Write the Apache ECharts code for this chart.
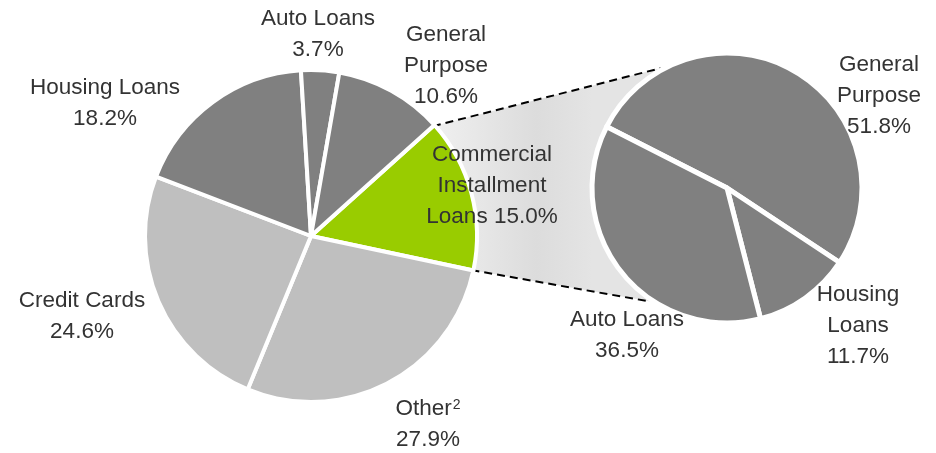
<!DOCTYPE html>
<html>
<head>
<meta charset="utf-8">
<script src="https://cdn.jsdelivr.net/npm/echarts@6/dist/echarts.min.js"></script>
<style>
  html, body { margin: 0; padding: 0; background: #fff; }
  #chart { width: 936px; height: 453px; }
</style>
</head>
<body>
<div id="chart"></div>
<script>
// Loan portfolio mix (%), main pie, clockwise from the highlighted slice
const mainCategories = ['Commercial\nInstallment\nLoans', 'Other', 'Credit Cards', 'Housing Loans', 'Auto Loans', 'General\nPurpose'];
const mainValues = [15.0, 27.9, 24.6, 18.2, 3.7, 10.6];
const mainColors = ['#99cc00', '#bfbfbf', '#bfbfbf', '#808080', '#808080', '#808080'];

// Breakdown of commercial installment loans (%)
const detailCategories = ['General\nPurpose', 'Housing\nLoans', 'Auto Loans'];
const detailValues = [51.8, 11.7, 36.5];

// Layout of the two pies (pixels)
const MAIN = { cx: 311, cy: 236, r: 166, start: 42 };
const DETAIL = { cx: 727, cy: 188, r: 135, start: 153 };

// Label anchor points (pixels)
const mainLabelPos = [[492, 186], [428, 424], [82, 316], [105, 103], [318, 34], [446, 66]];
const detailLabelPos = [[879, 96], [858, 326], [627, 335]];

const FONT = '"Liberation Sans", Arial, sans-serif';
const TEXT_COLOR = '#333333';
const FONT_SIZE = 22.5;

const chart = echarts.init(document.getElementById('chart'), null, { renderer: 'canvas' });

// Connector band from the highlighted slice to the detail pie
function polar(c, r, deg) {
  const a = deg * Math.PI / 180;
  return [c.cx + r * Math.cos(a), c.cy - r * Math.sin(a)];
}
const total = mainValues.reduce((a, b) => a + b, 0);
const sliceEnd = MAIN.start - 360 * mainValues[0] / total;
const pTopL = polar(MAIN, MAIN.r - 2, MAIN.start);
const pBotL = polar(MAIN, MAIN.r - 2, sliceEnd);
const pTopR = polar(DETAIL, DETAIL.r + 2, 119);
const pBotR = polar(DETAIL, DETAIL.r + 2, 236);
const bandPoints = [pTopL, pTopR];
for (let d = 119; d <= 236; d += 3) bandPoints.push(polar(DETAIL, DETAIL.r, d));
bandPoints.push(pBotR, pBotL, [MAIN.cx, MAIN.cy]);

const dashStyle = { stroke: '#000', lineWidth: 2, lineDash: [8, 5] };

const option = {
  backgroundColor: '#ffffff',
  animation: false,
  graphic: [
    {
      type: 'polygon',
      z: 0,
      shape: { points: bandPoints },
      style: {
        fill: new echarts.graphic.LinearGradient(pTopL[0], 0, DETAIL.cx - DETAIL.r, 0, [
          { offset: 0, color: '#f0f0f0' },
          { offset: 0.65, color: '#dcdcdc' },
          { offset: 1, color: '#e4e4e4' }
        ], true)
      }
    },
    {
      type: 'line', z: 1,
      shape: { x1: pTopL[0], y1: pTopL[1], x2: pTopR[0], y2: pTopR[1] },
      style: dashStyle
    },
    {
      type: 'line', z: 1,
      shape: { x1: pBotL[0], y1: pBotL[1], x2: pBotR[0], y2: pBotR[1] },
      style: dashStyle
    }
  ],
  series: [
    {
      type: 'pie',
      z: 3,
      center: [MAIN.cx, MAIN.cy],
      radius: [0, MAIN.r],
      startAngle: MAIN.start,
      clockwise: true,
      avoidLabelOverlap: false,
      data: mainCategories.map((n, i) => ({
        name: n, value: mainValues[i], itemStyle: { color: mainColors[i] }
      })),
      itemStyle: { borderColor: '#ffffff', borderWidth: 4 },
      label: {
        show: true,
        position: 'outside',
        color: TEXT_COLOR,
        fontFamily: FONT,
        fontSize: FONT_SIZE,
        lineHeight: 31,
        align: 'center',
        formatter: (p) => {
          const v = p.value.toFixed(1) + '%';
          if (p.dataIndex === 0) return p.name + ' ' + v;
          if (p.name === 'Other') return 'Other{sup|2}\n' + v;
          return p.name + '\n' + v;
        },
        rich: {
          sup: {
            fontSize: 14, fontFamily: FONT, color: TEXT_COLOR,
            verticalAlign: 'top', padding: [5, 0, 0, 1]
          }
        }
      },
      labelLine: { show: false },
      labelLayout: (params) => ({
        x: mainLabelPos[params.dataIndex][0],
        y: mainLabelPos[params.dataIndex][1],
        align: 'center',
        verticalAlign: 'middle'
      }),
      emphasis: { disabled: true }
    },
    {
      type: 'pie',
      z: 3,
      center: [DETAIL.cx, DETAIL.cy],
      radius: [0, DETAIL.r],
      startAngle: DETAIL.start,
      clockwise: true,
      avoidLabelOverlap: false,
      data: detailCategories.map((n, i) => ({ name: n, value: detailValues[i] })),
      itemStyle: { color: '#808080', borderColor: '#ffffff', borderWidth: 5 },
      label: {
        show: true,
        position: 'outside',
        color: TEXT_COLOR,
        fontFamily: FONT,
        fontSize: FONT_SIZE,
        lineHeight: 31,
        align: 'center',
        formatter: (p) => p.name + '\n' + p.value.toFixed(1) + '%'
      },
      labelLine: { show: false },
      labelLayout: (params) => ({
        x: detailLabelPos[params.dataIndex][0],
        y: detailLabelPos[params.dataIndex][1],
        align: 'center',
        verticalAlign: 'middle'
      }),
      emphasis: { disabled: true }
    }
  ]
};

chart.setOption(option);
</script>
</body>
</html>
